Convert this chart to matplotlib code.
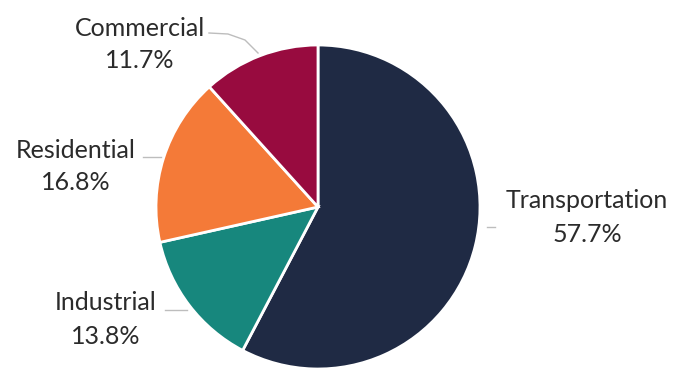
import matplotlib
matplotlib.use("Agg")
import matplotlib.pyplot as plt

sectors = ["Transportation", "Industrial", "Residential", "Commercial"]
shares = [57.7, 13.8, 16.8, 11.7]
colors = ["#1f2a44", "#17877d", "#f47a38", "#980b3f"]

plt.rcParams["font.family"] = ["Lato", "DejaVu Sans"]

W, H = 673, 368
fig = plt.figure(figsize=(W / 100, H / 100), dpi=100)
ax = fig.add_axes([0, 0, 1, 1])

cx, cy, r = 318, 161, 162
ax.pie(shares, colors=colors, startangle=90, counterclock=False,
       center=(cx, cy), radius=r, frame=True,
       wedgeprops=dict(edgecolor="white", linewidth=2))
ax.set_xlim(0, W)
ax.set_ylim(0, H)
ax.set_aspect("equal")
ax.axis("off")

# label centers (name line, percent line) and leader lines, in pixel units
label_pos = {
    "Transportation": (587, H - 200, H - 235),
    "Industrial": (106, H - 303, H - 337),
    "Residential": (76, H - 150, H - 183),
    "Commercial": (140, H - 28, H - 61),
}
leaders = {
    "Transportation": [(487, H - 227), (495, H - 227)],
    "Industrial": [(165, H - 310), (187, H - 310)],
    "Residential": [(143, H - 157), (161, H - 157)],
    "Commercial": [(209, H - 33), (228, H - 34), (245, H - 40), (258, H - 53)],
}
for name, val in zip(sectors, shares):
    x, y1, y2 = label_pos[name]
    ax.text(x, y1, name, ha="center", va="center", fontsize=18, color="#2b2b2b")
    ax.text(x, y2, f"{val:.1f}%", ha="center", va="center", fontsize=18,
            color="#2b2b2b")
    xs, ys = zip(*leaders[name])
    ax.plot(xs, ys, color="#bdbdbd", linewidth=1)

fig.savefig("out.png", dpi=100)
